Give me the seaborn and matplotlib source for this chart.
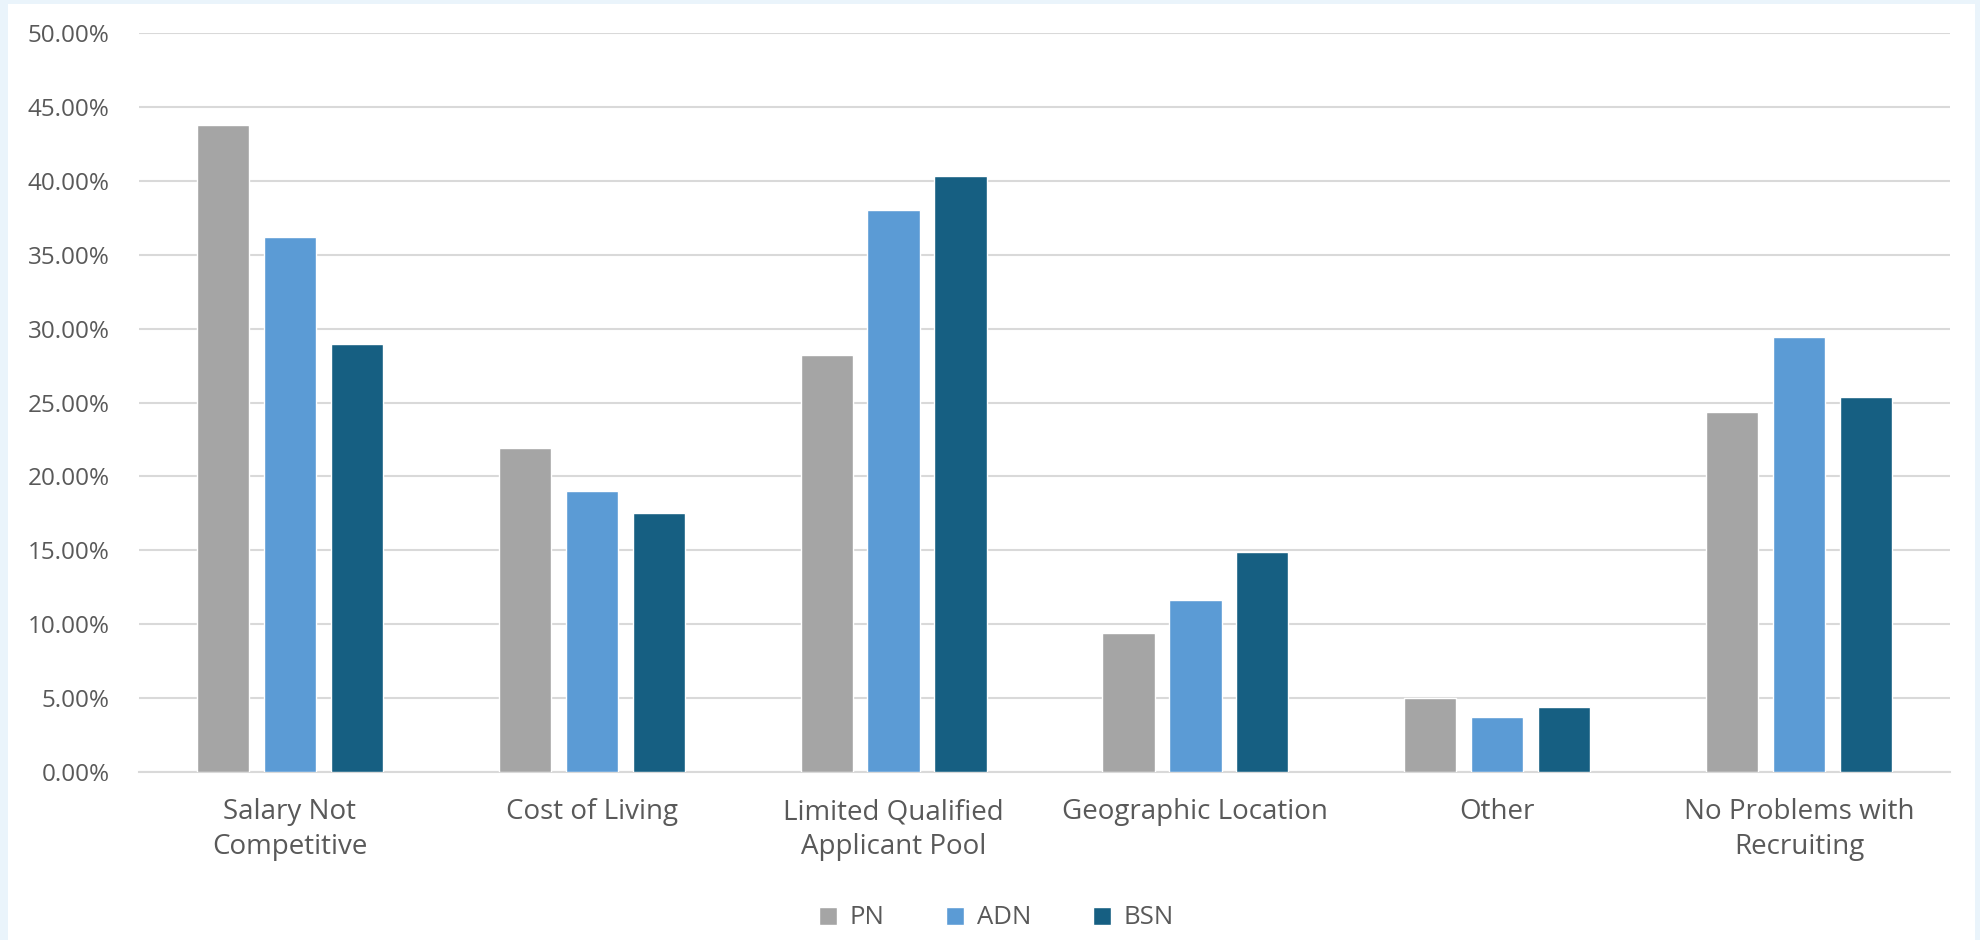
import matplotlib
matplotlib.use("Agg")
import matplotlib.pyplot as plt
import seaborn as sns
import pandas as pd
from matplotlib.patches import Rectangle
from matplotlib.ticker import PercentFormatter

categories = ["Salary Not\nCompetitive", "Cost of Living", "Limited Qualified\nApplicant Pool",
              "Geographic Location", "Other", "No Problems with\nRecruiting"]
series = ["PN", "ADN", "BSN"]
pn = [43.75, 21.9, 28.2, 9.4, 5.0, 24.35]
adn = [36.2, 19.0, 38.0, 11.65, 3.7, 29.45]
bsn = [28.95, 17.55, 40.35, 14.9, 4.4, 25.4]
colors = ["#A5A5A5", "#5B9BD5", "#165F82"]

rows = []
for s, vals in zip(series, [pn, adn, bsn]):
    for c, v in zip(categories, vals):
        rows.append({"category": c, "series": s, "value": v / 100})
df = pd.DataFrame(rows)

sns.set_style("white")
plt.rcParams["font.family"] = ["Open Sans", "DejaVu Sans"]
text_color = "#595959"

fig = plt.figure(figsize=(19.81, 9.40), dpi=100, facecolor="#EAF4FB")
fig.patches.append(Rectangle((8 / 1981, 0), (1975 - 8) / 1981, 1 - 4 / 940,
                             transform=fig.transFigure, facecolor="white",
                             edgecolor="none", zorder=-5))
ax = fig.add_axes([139 / 1981, 1 - 772 / 940, (1950 - 139) / 1981, (772 - 33) / 940])
ax.set_facecolor("none")

sns.barplot(data=df, x="category", y="value", hue="series", order=categories,
            hue_order=series, palette=colors, width=0.665, gap=0.22,
            saturation=1, ax=ax, legend=True, zorder=3)

ax.set_ylim(0, 0.5)
ax.set_yticks([i * 0.05 for i in range(11)])
ax.yaxis.set_major_formatter(PercentFormatter(1.0, decimals=2))
ax.grid(axis="y", color="#D9D9D9", linewidth=1.5, zorder=0)
ax.set_axisbelow(True)
for side in ["left", "right", "top"]:
    ax.spines[side].set_visible(False)
ax.spines["bottom"].set_color("#D9D9D9")
ax.spines["bottom"].set_linewidth(1.5)
ax.tick_params(axis="both", length=0, colors=text_color)
ax.tick_params(axis="y", pad=21, labelsize=17.5)
ax.tick_params(axis="x", pad=19, labelsize=20)
ax.set_xlabel("")
ax.set_ylabel("")
for lbl in ax.get_xticklabels():
    lbl.set_linespacing(1.3)

handles, labels = ax.get_legend_handles_labels()
ax.get_legend().remove()
leg = fig.legend(handles, labels, loc="center", bbox_to_anchor=(0.503, 1 - 918 / 940),
                 ncol=3, frameon=False, fontsize=18.5, handlelength=0.7,
                 handleheight=0.7, handletextpad=0.5, columnspacing=2.4)
for t in leg.get_texts():
    t.set_color(text_color)

fig.savefig("out.png", dpi=100, facecolor=fig.get_facecolor())
